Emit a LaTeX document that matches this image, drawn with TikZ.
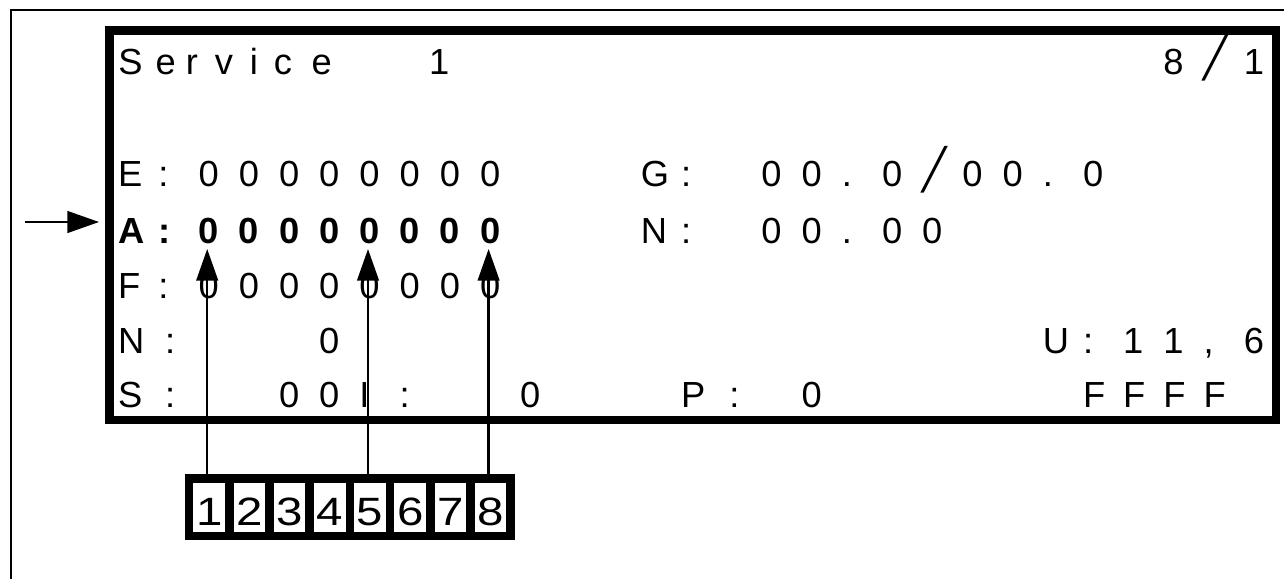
\documentclass[tikz,border=0pt]{standalone}
\usepackage{fontspec}
\usepackage{graphicx}
\setmainfont{Liberation Sans}
\newfontfamily\boxfont{DejaVu Sans Mono}
\usetikzlibrary{arrows.meta}
\newcommand\lcdslash{\raisebox{3pt}{\boxfont\fontsize{40}{40}\selectfont ╱}}
\def\cw{40.2}
\def\xo{118}
\begin{document}
\begin{tikzpicture}[x=1pt, y=-1pt,
  lcdtxt/.style={anchor=base west, inner sep=0pt, font=\fontsize{36.3}{40}\selectfont},
  lcdbold/.style={lcdtxt, font=\fontsize{36.3}{40}\selectfont\bfseries},
  cell/.style={draw, line width=8.5pt, fill=white, minimum width=40.2pt,
               minimum height=57.5pt, inner sep=0pt, text height=35.4pt,
               text depth=0pt, font=\fontsize{39.5}{40}\selectfont},
  arr/.style={-{Triangle[length=31.6pt, width=21.6pt]}, line width=2.4pt}
]
\useasboundingbox (0,0) rectangle (1284,579);

% outer frame
\draw[line width=2.2pt] (11,579) |- (1284,10);

% display
\node[draw, line width=8.5pt, minimum width=1166.5pt, minimum height=389.5pt,
      inner sep=0pt] (lcd) at (692.75,225.25) {};

% row 1
\foreach \x/\t in {118.2/S,155.5/e,185.6/r,214.7/v,249.6/i,273.6/c,311.5/e,429/1}
  \node[lcdtxt] at (\x,74.5) {\t};
\foreach \c/\t in {26/8,27/\lcdslash,28/1}
  \node[lcdtxt] at (\xo+\c*\cw,74.5) {\t};

% row E / G
\foreach \c/\t in {0/E,1/:,2/0,3/0,4/0,5/0,6/0,7/0,8/0,9/0,13/G,14/:,16/0,17/0,
                   18/.,19/0,20/\lcdslash,21/0,22/0,23/.,24/0}
  \node[lcdtxt] at (\xo+\c*\cw,186) {\t};

% row A / N
\foreach \c/\t in {0/A,1/:}
  \node[lcdbold] at (\xo+\c*\cw,243) {\t};
\foreach \c in {2,...,9}
  \node[lcdbold] (a\c) at (\xo+\c*\cw,243) {0};
\foreach \c/\t in {13/N,14/:,16/0,17/0,18/.,19/0,20/0}
  \node[lcdtxt] at (\xo+\c*\cw,243) {\t};

% row F
\foreach \c/\t in {0/F,1/:,2/0,3/0,4/0,5/0,6/0,7/0,8/0,9/0}
  \node[lcdtxt] at (\xo+\c*\cw,298) {\t};

% row N / U
\foreach \c/\t in {0/N,1.17/:,5/0,23/U,24/:,25/1,26/1,27/{,},28/6}
  \node[lcdtxt] at (\xo+\c*\cw,353) {\t};

% row S / P
\foreach \c/\t in {0/S,1.17/:,4/0,5/0,6/I,7/:,10/0,14/P,15.2/:,17/0,24/F,25/F,26/F,27/F}
  \node[lcdtxt] at (\xo+\c*\cw,407.5) {\t};

% bit cells
\foreach \k in {1,...,8}
  \node[cell] (c\k) at (209.2+\k*40.2-40.2,507.3) {\scalebox{1.2}[1]{\k}};

% arrows
\coordinate (arrin) at (25,222);
\draw[arr, shorten >=6.2pt] (arrin) -- (arrin -| lcd.west);
\foreach \k/\c in {1/2,5/6,8/9}
  \draw[arr, shorten >=6pt] ([xshift=-2pt]c\k.north) -- ([xshift=-2pt]c\k.north |- a\c.base);

\end{tikzpicture}
\end{document}
